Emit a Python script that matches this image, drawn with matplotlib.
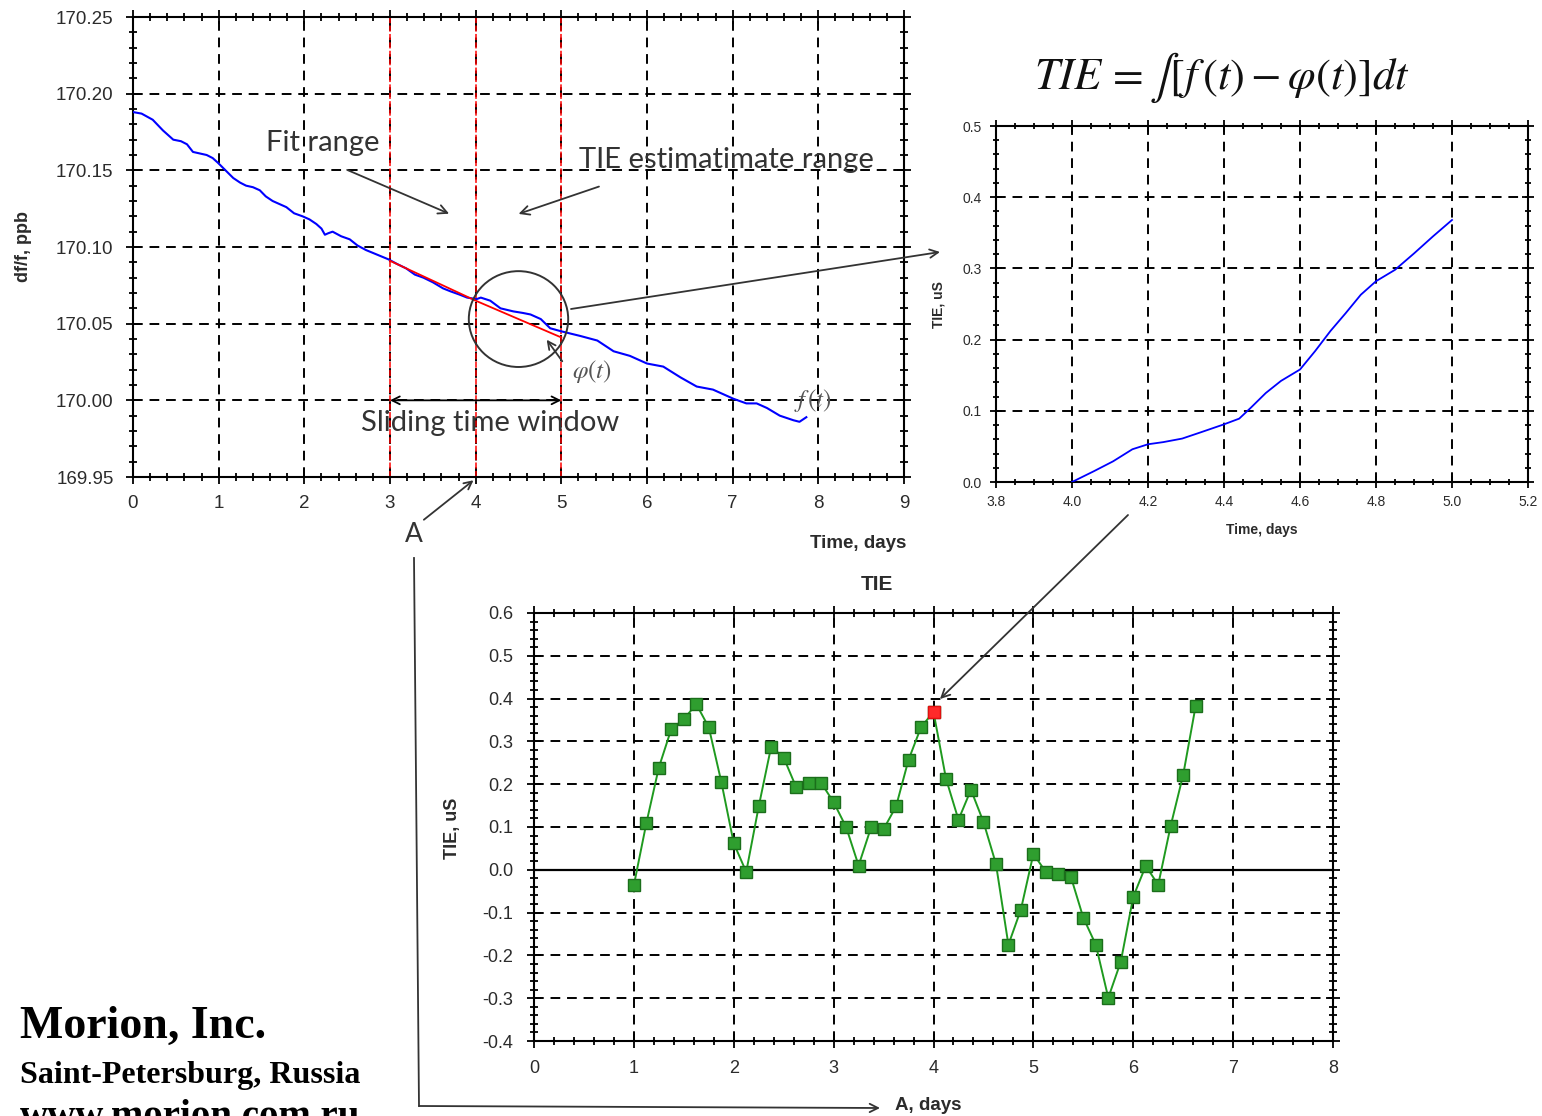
import matplotlib
matplotlib.use('Agg')
import matplotlib.pyplot as plt
from matplotlib.patches import Ellipse, FancyArrowPatch
from matplotlib.lines import Line2D
from matplotlib.ticker import MultipleLocator, FormatStrFormatter

# ---------------- data ----------------
# f(t): measured df/f, ppb vs time, days
ft_days = [0.00, 0.10, 0.23, 0.35, 0.47, 0.56, 0.63, 0.70, 0.78, 0.86, 0.93, 0.99,
           1.08, 1.17, 1.25, 1.32, 1.40, 1.48, 1.55, 1.63, 1.71, 1.79, 1.88, 1.98,
           2.06, 2.14, 2.20, 2.24, 2.28, 2.33, 2.43, 2.53, 2.62, 2.72, 2.85, 2.98,
           3.08, 3.19, 3.29, 3.39, 3.50, 3.62, 3.71, 3.81, 3.90, 4.01, 4.06, 4.17,
           4.29, 4.44, 4.55, 4.64, 4.76, 4.87, 5.00, 5.22, 5.42, 5.61, 5.80, 6.00,
           6.19, 6.39, 6.58, 6.77, 7.01, 7.16, 7.28, 7.40, 7.55, 7.71, 7.78, 7.86]
ft_ppb = [170.188, 170.187, 170.183, 170.176, 170.170, 170.169, 170.167, 170.162,
          170.161, 170.160, 170.158, 170.155, 170.150, 170.145, 170.142, 170.140,
          170.139, 170.137, 170.133, 170.130, 170.128, 170.126, 170.122, 170.120,
          170.118, 170.115, 170.112, 170.108, 170.109, 170.110, 170.107, 170.105,
          170.101, 170.098, 170.095, 170.092, 170.089, 170.086, 170.082, 170.080,
          170.077, 170.073, 170.071, 170.069, 170.067, 170.066, 170.067, 170.065,
          170.060, 170.058, 170.057, 170.056, 170.053, 170.047, 170.045, 170.042,
          170.039, 170.032, 170.029, 170.024, 170.022, 170.015, 170.009, 170.007,
          170.001, 169.998, 169.998, 169.995, 169.990, 169.987, 169.986, 169.989]

# phi(t): linear fit over the fit range
fit_days = [3.0, 4.0, 5.0]
fit_ppb = [170.091, 170.065, 170.041]

# window boundaries
window_days = [3, 4, 5]

# TIE within the estimate range
tie_days = [4.00, 4.057, 4.108, 4.159, 4.20, 4.24, 4.29, 4.34, 4.40, 4.44, 4.47, 4.51,
            4.55, 4.60, 4.64, 4.68, 4.72, 4.76, 4.80, 4.85, 4.90, 4.95, 5.00]
tie_us = [0.000, 0.015, 0.029, 0.046, 0.053, 0.056, 0.061, 0.070, 0.081, 0.089, 0.104,
          0.125, 0.142, 0.158, 0.184, 0.212, 0.237, 0.263, 0.282, 0.298, 0.321, 0.345, 0.368]

# TIE vs window start A
a_days = [1.000, 1.125, 1.250, 1.375, 1.500, 1.625, 1.750, 1.875, 2.000, 2.125,
          2.250, 2.375, 2.500, 2.625, 2.750, 2.875, 3.000, 3.125, 3.250, 3.375,
          3.500, 3.625, 3.750, 3.875, 4.000, 4.125, 4.250, 4.375, 4.500, 4.625,
          4.750, 4.875, 5.000, 5.125, 5.250, 5.375, 5.500, 5.625, 5.750, 5.875,
          6.000, 6.125, 6.250, 6.375, 6.500, 6.625]
a_tie = [-0.036, 0.109, 0.239, 0.329, 0.352, 0.387, 0.333, 0.206, 0.062, -0.005,
         0.148, 0.288, 0.262, 0.193, 0.203, 0.203, 0.158, 0.100, 0.010, 0.099,
         0.095, 0.148, 0.257, 0.333, 0.369, 0.213, 0.117, 0.187, 0.112, 0.014,
         -0.175, -0.093, 0.037, -0.005, -0.009, -0.016, -0.112, -0.175, -0.299, -0.215,
         -0.063, 0.009, -0.035, 0.103, 0.222, 0.383]
highlight_index = 24

# ---------------- figure ----------------
W, H = 1542, 1116
plt.rcParams['font.family'] = ['Liberation Sans', 'DejaVu Sans']
plt.rcParams['mathtext.fontset'] = 'stix'

fig = plt.figure(figsize=(W / 100, H / 100), dpi=100)
fig.patch.set_facecolor('white')


def fp(px, py):
    return (px / W, 1 - py / H)


def rect(l, t, r, b):
    return [l / W, 1 - b / H, (r - l) / W, (b - t) / H]


TXT = '#2b2b2b'
ANN = '#333333'
ANNFONT = 'Lato'


def style(ax, xmaj, xmin, ymaj, ymin, fs, xfmt, yfmt, xpad, ypad, tl=10):
    ax.xaxis.set_major_locator(MultipleLocator(xmaj))
    ax.xaxis.set_minor_locator(MultipleLocator(xmin))
    ax.yaxis.set_major_locator(MultipleLocator(ymaj))
    ax.yaxis.set_minor_locator(MultipleLocator(ymin))
    ax.xaxis.set_major_formatter(FormatStrFormatter(xfmt))
    ax.yaxis.set_major_formatter(FormatStrFormatter(yfmt))
    ax.grid(True, which='major', color='black', ls=(0, (5, 3.5)), lw=1.4)
    ax.tick_params(which='both', direction='inout', top=True, right=True,
                   color='black', width=1.3, labelsize=fs, labelcolor=TXT)
    ax.tick_params(which='major', length=tl)
    ax.tick_params(which='minor', length=tl * 0.6)
    ax.tick_params(axis='x', pad=xpad)
    ax.tick_params(axis='y', pad=ypad)
    for s in ax.spines.values():
        s.set_linewidth(1.5)
        s.set_color('black')
    ax.set_axisbelow(True)


# ---- top-left: f(t) ----
ax1 = fig.add_axes(rect(133, 17, 904, 477))
ax1.set_xlim(0, 9)
ax1.set_ylim(169.95, 170.25)
style(ax1, 1, 0.2, 0.05, 0.01, 13.5, '%d', '%.2f', 8, 9)
for wd in window_days:
    ax1.axvline(wd, color='red', lw=1.1, ls=(0, (4, 1.5)), zorder=2)
ax1.plot(ft_days, ft_ppb, color='#0000ff', lw=1.5, zorder=3)
ax1.plot(fit_days, fit_ppb, color='red', lw=1.3, zorder=4)

ax1.text(2.21, 170.168, 'Fit range', family=ANNFONT, fontsize=21, color=ANN,
         ha='center', va='center')
ax1.annotate('', xy=(3.72, 170.121), xytext=(2.47, 170.151),
             arrowprops=dict(arrowstyle='->', color=ANN, lw=1.3, mutation_scale=16))
ax1.text(6.93, 170.157, 'TIE estimatimate range', family=ANNFONT, fontsize=21,
         color=ANN, ha='center', va='center')
ax1.annotate('', xy=(4.47, 170.121), xytext=(5.47, 170.140),
             arrowprops=dict(arrowstyle='->', color=ANN, lw=1.3, mutation_scale=16))
ax1.text(4.17, 169.985, 'Sliding time window', family=ANNFONT, fontsize=21,
         color=ANN, ha='center', va='center')
ax1.annotate('', xy=(3.0, 170.0), xytext=(5.0, 170.0),
             arrowprops=dict(arrowstyle='<->', color='black', lw=1.3, mutation_scale=14,
                             shrinkA=0, shrinkB=0))
ax1.add_patch(Ellipse((4.5, 170.053), 1.16, 0.0625, fill=False, ec=ANN, lw=1.4, zorder=5))
ax1.text(5.36, 170.019, r'$\varphi(t)$', fontsize=18, color='#555555', ha='center',
         va='center')
ax1.annotate('', xy=(4.81, 170.041), xytext=(5.03, 170.024),
             arrowprops=dict(arrowstyle='->', color=ANN, lw=1.3, mutation_scale=14))
ax1.text(7.94, 170.0, r'$f\,(t)$', fontsize=18, color='#555555', ha='center',
         va='center')
ax1.annotate('', xy=(4.0, 169.949), xytext=(3.37, 169.921), annotation_clip=False,
             arrowprops=dict(arrowstyle='->', color=ANN, lw=1.3, mutation_scale=14))
fig.text(*fp(414, 535), 'A', family=ANNFONT, fontsize=19, color=ANN,
         ha='center', va='center')
fig.text(*fp(906, 544), 'Time, days', fontsize=13.5, fontweight='bold', color=TXT,
         ha='right', va='center')
fig.text(*fp(24, 246), 'df/f, ppb', fontsize=13, fontweight='bold', color=TXT,
         ha='center', va='center', rotation=90)

# ---- top-right: TIE over the estimate range ----
ax2 = fig.add_axes(rect(996, 126, 1528, 482))
ax2.set_xlim(3.8, 5.2)
ax2.set_ylim(0, 0.5)
style(ax2, 0.2, 0.05, 0.1, 0.02, 10, '%.1f', '%.1f', 5, 6, tl=8)
ax2.plot(tie_days, tie_us, color='#0000ff', lw=1.3, zorder=3)
fig.text(*fp(1262, 530), 'Time, days', fontsize=10, fontweight='bold', color=TXT,
         ha='center', va='center')
fig.text(*fp(939, 305), 'TIE, uS', fontsize=10, fontweight='bold', color=TXT,
         ha='center', va='center', rotation=90)
fig.text(*fp(1222, 78), r'$TIE\,=\int\left[f\,(t)-\varphi(t)\right]dt$', fontsize=32,
         color='#111111', ha='center', va='center')

# ---- bottom: TIE vs A ----
ax3 = fig.add_axes(rect(534, 613, 1333, 1041))
ax3.set_xlim(0, 8)
ax3.set_ylim(-0.4, 0.6)
style(ax3, 1, 0.2, 0.1, 0.02, 13, '%d', '%.1f', 9, 10)
ax3.axhline(0, color='black', lw=1.6, zorder=2)
ax3.plot(a_days, a_tie, color='#1f9a1f', lw=1.4, marker='s', ms=9,
         mfc='#2f9e2f', mec='#1b6e1b', mew=1.0, zorder=3)
ax3.plot([a_days[highlight_index]], [a_tie[highlight_index]], ls='none', marker='s',
         ms=9, mfc='#ff2a2a', mec='#e01010', mew=1.0, zorder=4)
fig.text(*fp(877, 585), 'TIE', fontsize=15, fontweight='bold', color=TXT,
         ha='center', va='center')
fig.text(*fp(453, 828), 'TIE, uS', fontsize=13, fontweight='bold', color=TXT,
         ha='center', va='center', rotation=90)
fig.text(*fp(895, 1105), 'A, days', fontsize=13.5, fontweight='bold', color=TXT,
         ha='left', va='center')

# ---- connectors between panels ----
def farrow(p0, p1, style='->', ms=15):
    fig.add_artist(FancyArrowPatch(fp(*p0), fp(*p1), transform=fig.transFigure,
                                   arrowstyle=style, mutation_scale=ms, color=ANN,
                                   lw=1.3, shrinkA=0, shrinkB=0))


farrow((571, 309), (940, 252))
farrow((1128, 515), (940, 699))
p_top, p_bot = fp(414, 558), fp(419, 1106)
fig.add_artist(Line2D([p_top[0], p_bot[0]], [p_top[1], p_bot[1]],
                      transform=fig.transFigure, color=ANN, lw=1.3))
farrow((419, 1106), (880, 1108))

# ---- company block ----
fig.text(*fp(20, 1027), 'Morion, Inc.', family='Liberation Serif', fontweight='bold',
         fontsize=33, color='black', ha='left', va='center')
fig.text(*fp(20, 1075), 'Saint-Petersburg, Russia', family='Liberation Serif',
         fontweight='bold', fontsize=23, color='black', ha='left', va='center')
fig.text(*fp(20, 1127), 'www.morion.com.ru', family='Liberation Serif',
         fontweight='bold', fontsize=28, color='black', ha='left', va='baseline')

fig.savefig('out.png', dpi=100, facecolor='white')
